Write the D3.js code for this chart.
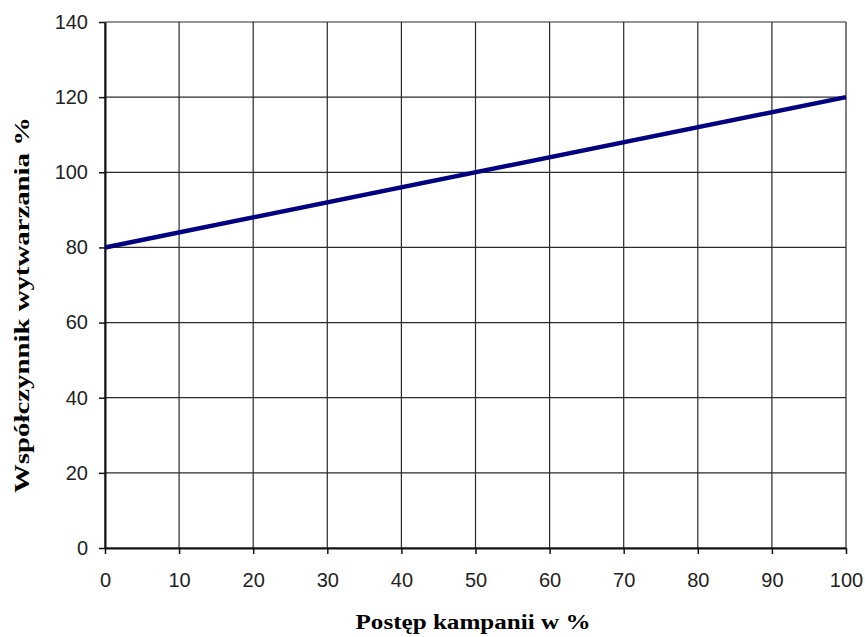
<!DOCTYPE html>
<html>
<head>
<meta charset="utf-8">
<script src="https://cdn.jsdelivr.net/npm/d3@7"></script>
<style>
  body { margin: 0; background: #fff; }
  svg { display: block; }
  .axis text { font-family: 'Liberation Sans', Arial, sans-serif; font-size: 20px; fill: #222; }
</style>
</head>
<body>
<div id="chart"></div>
<script>
// dane wykresu
const postep = [0, 100];
const wspolczynnik = [80, 120];
const xTicks = [0, 10, 20, 30, 40, 50, 60, 70, 80, 90, 100];
const yTicks = [0, 20, 40, 60, 80, 100, 120, 140];

const W = 865, H = 637;
const margin = { top: 22, right: 19, bottom: 89, left: 105 };
const width = W - margin.left - margin.right;
const height = H - margin.top - margin.bottom;

const svg = d3.select("#chart").append("svg")
    .attr("width", W).attr("height", H);
const g = svg.append("g")
    .attr("transform", `translate(${margin.left},${margin.top})`);

const x = d3.scaleLinear().domain([0, 100]).range([0, width]);
const y = d3.scaleLinear().domain([0, 140]).range([height, 0]);

// siatka
g.append("g").selectAll("line").data(yTicks).join("line")
    .attr("x1", 0).attr("x2", width)
    .attr("y1", d => y(d)).attr("y2", d => y(d))
    .attr("stroke", "#2a2a2a").attr("stroke-width", 1.2);
g.append("g").selectAll("line").data(xTicks).join("line")
    .attr("y1", 0).attr("y2", height)
    .attr("x1", d => x(d)).attr("x2", d => x(d))
    .attr("stroke", "#2a2a2a").attr("stroke-width", 1.2);

// osie
const xAxis = g.append("g")
    .attr("class", "axis")
    .attr("transform", `translate(0,${height})`)
    .call(d3.axisBottom(x).tickValues(xTicks).tickSize(6).tickPadding(19).tickSizeOuter(0));
const yAxis = g.append("g")
    .attr("class", "axis")
    .call(d3.axisLeft(y).tickValues(yTicks).tickSize(6).tickPadding(11).tickSizeOuter(0));
[xAxis, yAxis].forEach(a => {
    a.attr("font-size", 20).attr("font-family", "'Liberation Sans', Arial, sans-serif");
    a.select(".domain").attr("stroke", "#111").attr("stroke-width", 2);
    a.selectAll(".tick line").attr("stroke", "#111").attr("stroke-width", 1.5);
});

// linia
const dane = postep.map((p, i) => ({ p, w: wspolczynnik[i] }));
g.append("path").datum(dane)
    .attr("fill", "none")
    .attr("stroke", "#000080")
    .attr("stroke-width", 4.5)
    .attr("d", d3.line().x(d => x(d.p)).y(d => y(d.w)));

// tytuły osi
svg.append("text")
    .attr("x", 473).attr("y", 629)
    .attr("text-anchor", "middle")
    .attr("textLength", 235).attr("lengthAdjust", "spacingAndGlyphs")
    .style("font-family", "'Liberation Serif', 'Times New Roman', serif")
    .style("font-weight", "bold").style("font-size", "20px")
    .text("Postęp kampanii w %");
svg.append("text")
    .attr("transform", `translate(29,305) rotate(-90)`)
    .attr("text-anchor", "middle")
    .attr("textLength", 376).attr("lengthAdjust", "spacingAndGlyphs")
    .style("font-family", "'Liberation Serif', 'Times New Roman', serif")
    .style("font-weight", "bold").style("font-size", "20px")
    .text("Współczynnik wytwarzania %");
</script>
</body>
</html>
